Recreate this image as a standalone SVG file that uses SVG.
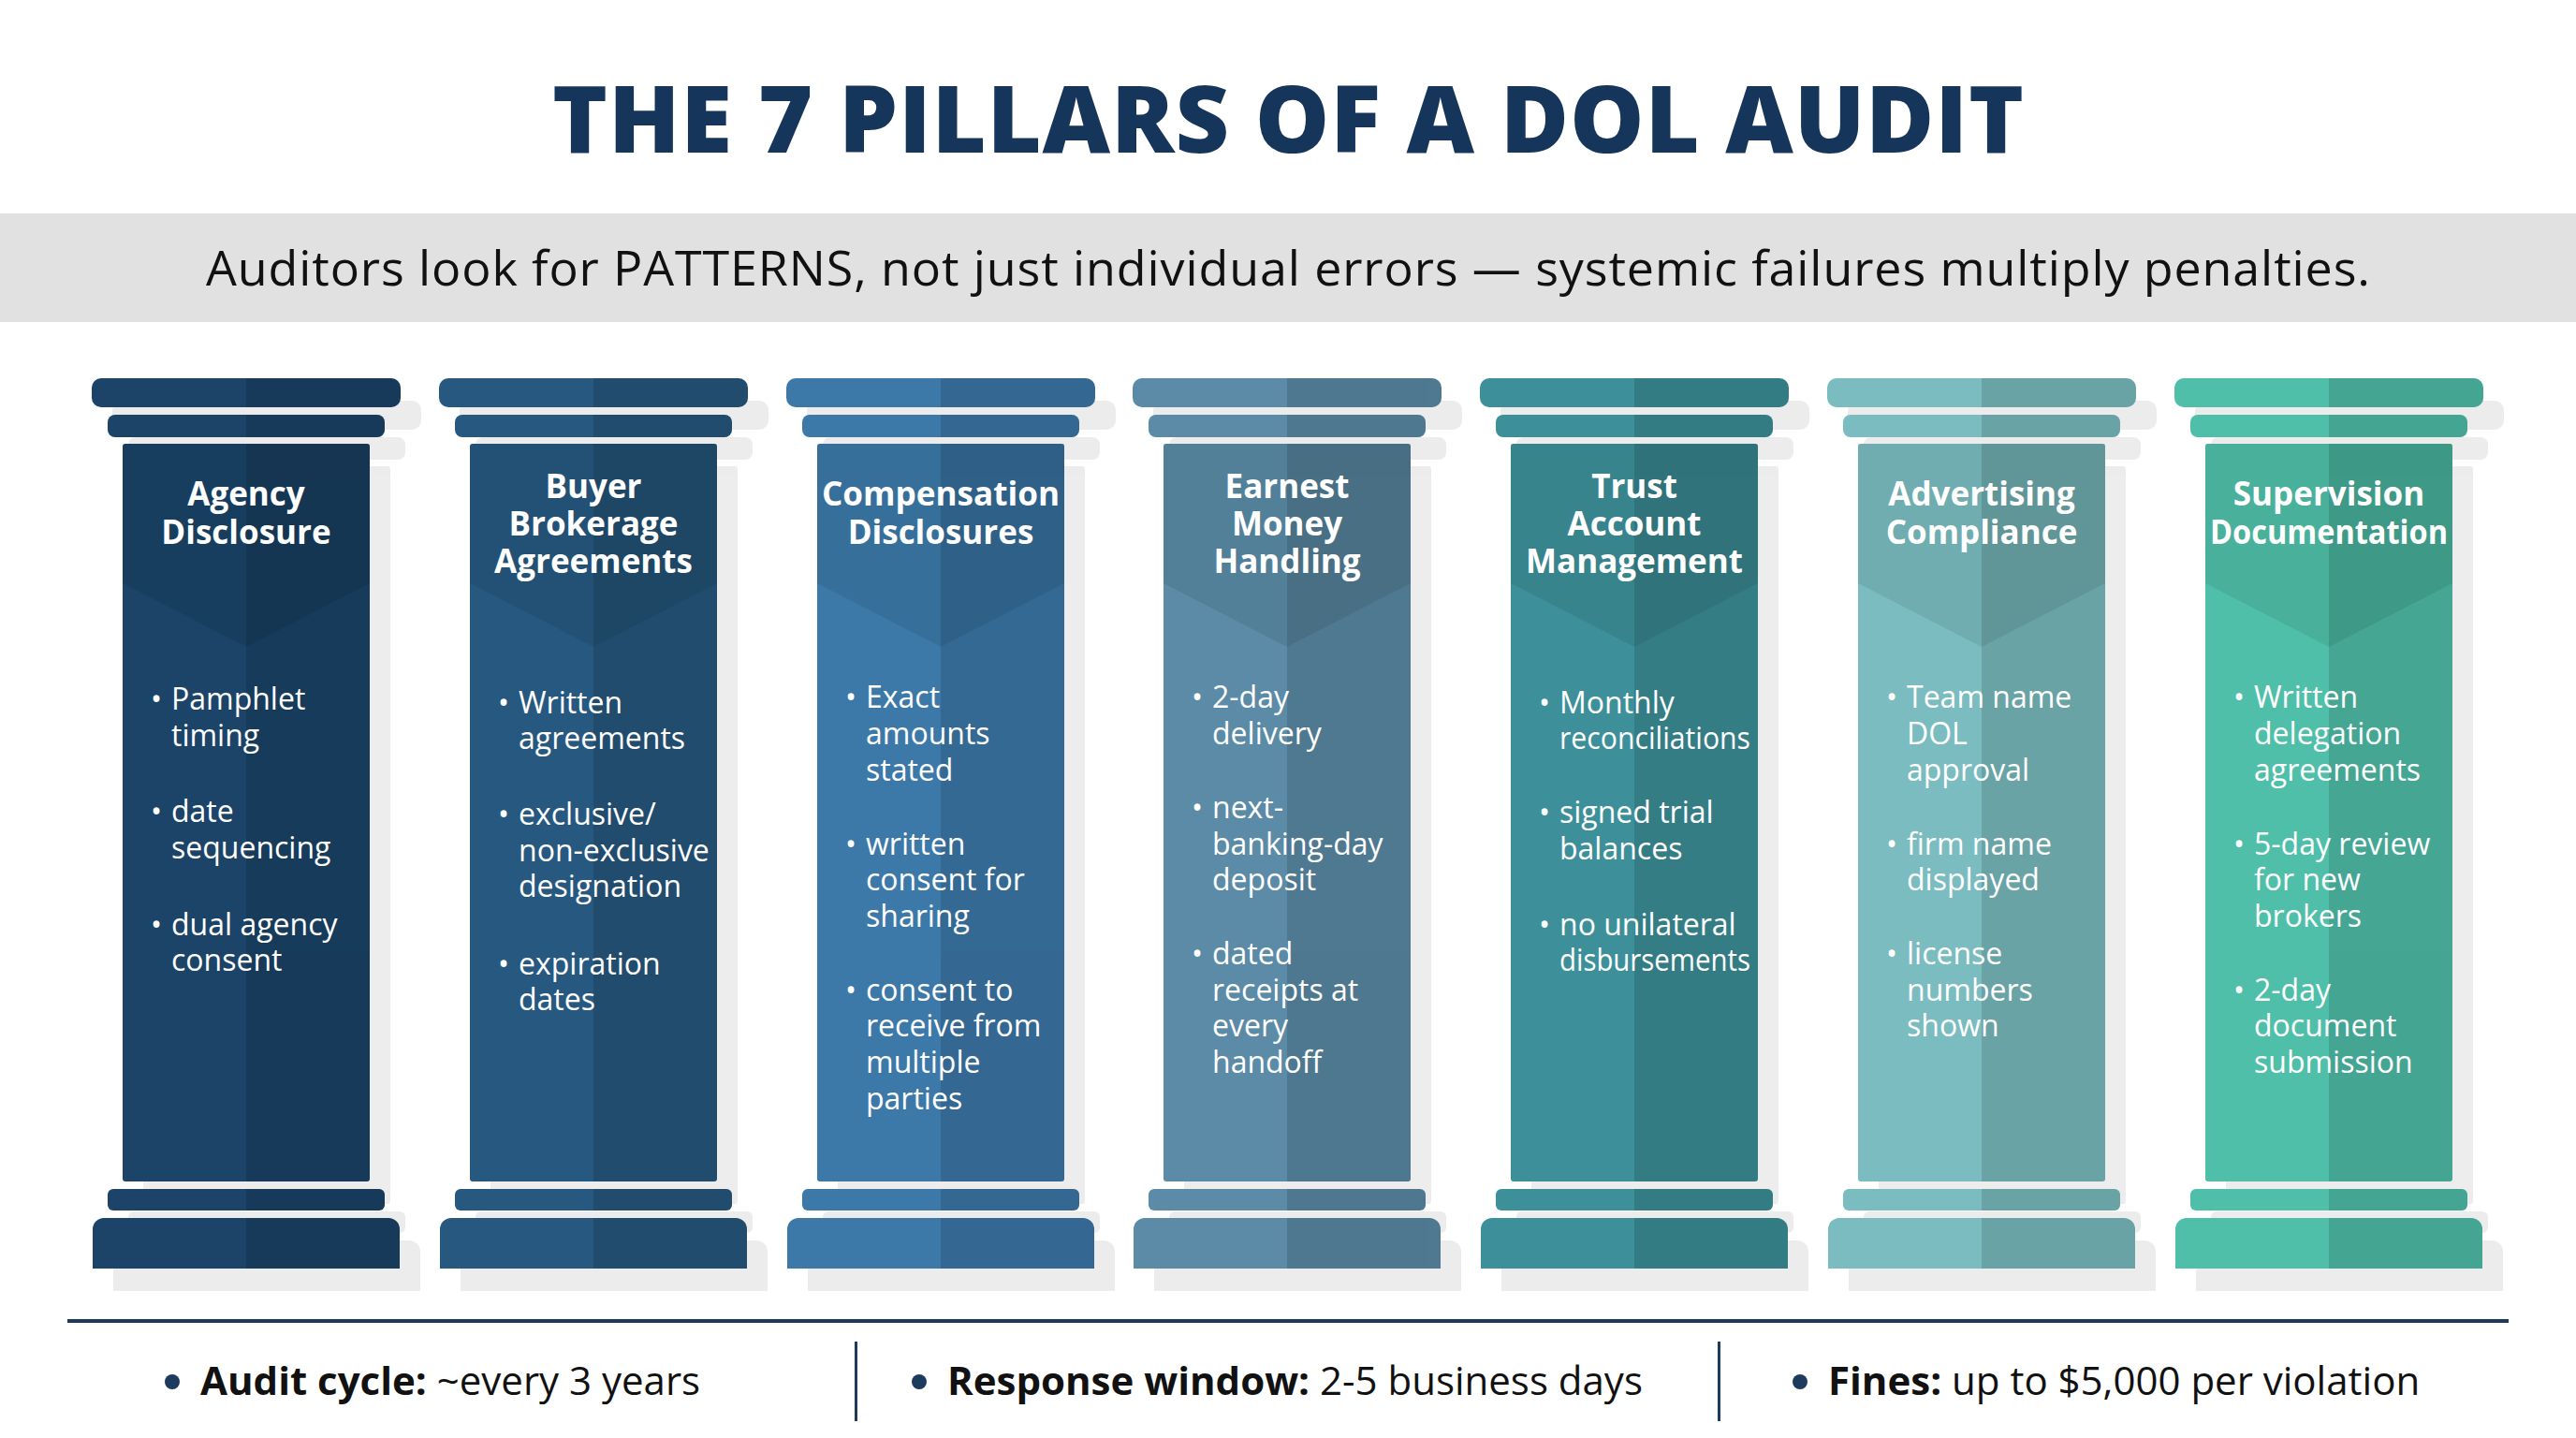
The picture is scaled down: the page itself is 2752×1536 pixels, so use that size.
<svg xmlns="http://www.w3.org/2000/svg" xmlns:xlink="http://www.w3.org/1999/xlink" width="2752" height="1536" viewBox="0 0 2752 1536">
<style>
.t{font-family:"Open Sans","Liberation Sans",sans-serif;font-weight:700;fill:#fff;font-size:35px;text-anchor:middle}
.b{font-family:"Open Sans","Liberation Sans",sans-serif;font-weight:500;fill:#fff;font-size:32px}
.f{font-family:"Open Sans","Liberation Sans",sans-serif;font-size:42px;fill:#111}
</style>
<defs>
<g id="shape">
<rect x="-165" y="404" width="330" height="31" rx="10"/>
<rect x="-148" y="443" width="296" height="24" rx="8"/>
<rect x="-132" y="474" width="264" height="788" rx="3"/>
<rect x="-148" y="1270" width="296" height="23" rx="6"/>
<path d="M-164 1355V1313a12 12 0 0 1 12-12H152a12 12 0 0 1 12 12V1355Z"/>
</g>
<clipPath id="rh"><rect x="0" y="380" width="200" height="1000"/></clipPath>
<g id="pill">
<use xlink:href="#shape" fill="#000" opacity="0.07" transform="translate(22,24)"/>
<use xlink:href="#shape"/>
<use xlink:href="#shape" fill="#000" opacity="0.13" clip-path="url(#rh)"/>
<polygon points="-132,474 132,474 132,623 0,691 -132,623" fill="#000" opacity="0.08"/>
</g>
</defs>
<rect width="2752" height="1536" fill="#fff"/>
<text x="1376" y="163" text-anchor="middle" font-family="Open Sans,Liberation Sans,sans-serif" font-weight="800" font-size="100" fill="#15355a" textLength="1572">THE 7 PILLARS OF A DOL AUDIT</text>
<rect x="0" y="228" width="2752" height="116" fill="#e1e1e1"/>
<text x="1376" y="305" text-anchor="middle" font-family="Open Sans,Liberation Sans,sans-serif" font-size="52" fill="#111" textLength="2312">Auditors look for PATTERNS, not just individual errors — systemic failures multiply penalties.</text>

<g id="p1" transform="translate(263,0)" fill="#1b4468"><use xlink:href="#pill"/>
<text class="t"><tspan x="0" y="540">Agency</tspan><tspan x="0" y="581">Disclosure</tspan></text>
<g class="b"><text x="-102" y="758">•</text><text x="-80"><tspan x="-80" y="758">Pamphlet</tspan><tspan x="-80" y="797">timing</tspan></text>
<text x="-102" y="878">•</text><text><tspan x="-80" y="878">date</tspan><tspan x="-80" y="917">sequencing</tspan></text>
<text x="-102" y="999">•</text><text><tspan x="-80" y="999">dual agency</tspan><tspan x="-80" y="1037">consent</tspan></text></g></g>

<g id="p2" transform="translate(634,0)" fill="#27587f"><use xlink:href="#pill"/>
<text class="t"><tspan x="0" y="532">Buyer</tspan><tspan x="0" y="572">Brokerage</tspan><tspan x="0" y="612">Agreements</tspan></text>
<g class="b"><text x="-102" y="762">•</text><text><tspan x="-80" y="762">Written</tspan><tspan x="-80" y="800">agreements</tspan></text>
<text x="-102" y="881">•</text><text><tspan x="-80" y="881">exclusive/</tspan><tspan x="-80" y="920">non-exclusive</tspan><tspan x="-80" y="958">designation</tspan></text>
<text x="-102" y="1041">•</text><text><tspan x="-80" y="1041">expiration</tspan><tspan x="-80" y="1079">dates</tspan></text></g></g>

<g id="p3" transform="translate(1005,0)" fill="#3c79a9"><use xlink:href="#pill"/>
<text class="t"><tspan x="0" y="540" textLength="254" lengthAdjust="spacingAndGlyphs">Compensation</tspan><tspan x="0" y="581">Disclosures</tspan></text>
<g class="b"><text x="-102" y="756">•</text><text><tspan x="-80" y="756">Exact</tspan><tspan x="-80" y="795">amounts</tspan><tspan x="-80" y="834">stated</tspan></text>
<text x="-102" y="913">•</text><text><tspan x="-80" y="913">written</tspan><tspan x="-80" y="951">consent for</tspan><tspan x="-80" y="990">sharing</tspan></text>
<text x="-102" y="1069">•</text><text><tspan x="-80" y="1069">consent to</tspan><tspan x="-80" y="1107">receive from</tspan><tspan x="-80" y="1146">multiple</tspan><tspan x="-80" y="1185">parties</tspan></text></g></g>

<g id="p4" transform="translate(1375,0)" fill="#5b8ba6"><use xlink:href="#pill"/>
<text class="t"><tspan x="0" y="532">Earnest</tspan><tspan x="0" y="572">Money</tspan><tspan x="0" y="612">Handling</tspan></text>
<g class="b"><text x="-102" y="756">•</text><text><tspan x="-80" y="756">2-day</tspan><tspan x="-80" y="795">delivery</tspan></text>
<text x="-102" y="874">•</text><text><tspan x="-80" y="874">next-</tspan><tspan x="-80" y="913">banking-day</tspan><tspan x="-80" y="951">deposit</tspan></text>
<text x="-102" y="1030">•</text><text><tspan x="-80" y="1030">dated</tspan><tspan x="-80" y="1069">receipts at</tspan><tspan x="-80" y="1107">every</tspan><tspan x="-80" y="1146">handoff</tspan></text></g></g>

<g id="p5" transform="translate(1746,0)" fill="#3d9099"><use xlink:href="#pill"/>
<text class="t"><tspan x="0" y="532">Trust</tspan><tspan x="0" y="572">Account</tspan><tspan x="0" y="612" textLength="232" lengthAdjust="spacingAndGlyphs">Management</tspan></text>
<g class="b"><text x="-102" y="762">•</text><text><tspan x="-80" y="762">Monthly</tspan><tspan x="-80" y="800" textLength="204" lengthAdjust="spacingAndGlyphs">reconciliations</tspan></text>
<text x="-102" y="879">•</text><text><tspan x="-80" y="879">signed trial</tspan><tspan x="-80" y="918">balances</tspan></text>
<text x="-102" y="999">•</text><text><tspan x="-80" y="999">no unilateral</tspan><tspan x="-80" y="1037" textLength="204" lengthAdjust="spacingAndGlyphs">disbursements</tspan></text></g></g>

<g id="p6" transform="translate(2117,0)" fill="#7abcbf"><use xlink:href="#pill"/>
<text class="t"><tspan x="0" y="540">Advertising</tspan><tspan x="0" y="581">Compliance</tspan></text>
<g class="b"><text x="-102" y="756">•</text><text><tspan x="-80" y="756">Team name</tspan><tspan x="-80" y="795">DOL</tspan><tspan x="-80" y="834">approval</tspan></text>
<text x="-102" y="913">•</text><text><tspan x="-80" y="913">firm name</tspan><tspan x="-80" y="951">displayed</tspan></text>
<text x="-102" y="1030">•</text><text><tspan x="-80" y="1030">license</tspan><tspan x="-80" y="1069">numbers</tspan><tspan x="-80" y="1107">shown</tspan></text></g></g>

<g id="p7" transform="translate(2488,0)" fill="#4fbfa9"><use xlink:href="#pill"/>
<text class="t"><tspan x="0" y="540">Supervision</tspan><tspan x="0" y="581" textLength="254" lengthAdjust="spacingAndGlyphs">Documentation</tspan></text>
<g class="b"><text x="-102" y="756">•</text><text><tspan x="-80" y="756">Written</tspan><tspan x="-80" y="795">delegation</tspan><tspan x="-80" y="834">agreements</tspan></text>
<text x="-102" y="913">•</text><text><tspan x="-80" y="913">5-day review</tspan><tspan x="-80" y="951">for new</tspan><tspan x="-80" y="990">brokers</tspan></text>
<text x="-102" y="1069">•</text><text><tspan x="-80" y="1069">2-day</tspan><tspan x="-80" y="1107">document</tspan><tspan x="-80" y="1146">submission</tspan></text></g></g>

<g id="connectors"></g>
<g id="footer">
<rect x="72" y="1409" width="2608" height="4" fill="#1d3b5c"/>
<rect x="913" y="1433" width="3" height="85" fill="#1d3b5c"/>
<rect x="1835" y="1433" width="3" height="85" fill="#1d3b5c"/>
<circle cx="184" cy="1476" r="8" fill="#1d3b5c"/>
<circle cx="982" cy="1476" r="8" fill="#1d3b5c"/>
<circle cx="1923" cy="1476" r="8" fill="#1d3b5c"/>
<text class="f" x="214" y="1490"><tspan font-weight="700">Audit cycle:</tspan> ~every 3 years</text>
<text class="f" x="1012" y="1490"><tspan font-weight="700">Response window:</tspan> 2-5 business days</text>
<text class="f" x="1953" y="1490"><tspan font-weight="700">Fines:</tspan> up to $5,000 per violation</text>
</g>
</svg>
